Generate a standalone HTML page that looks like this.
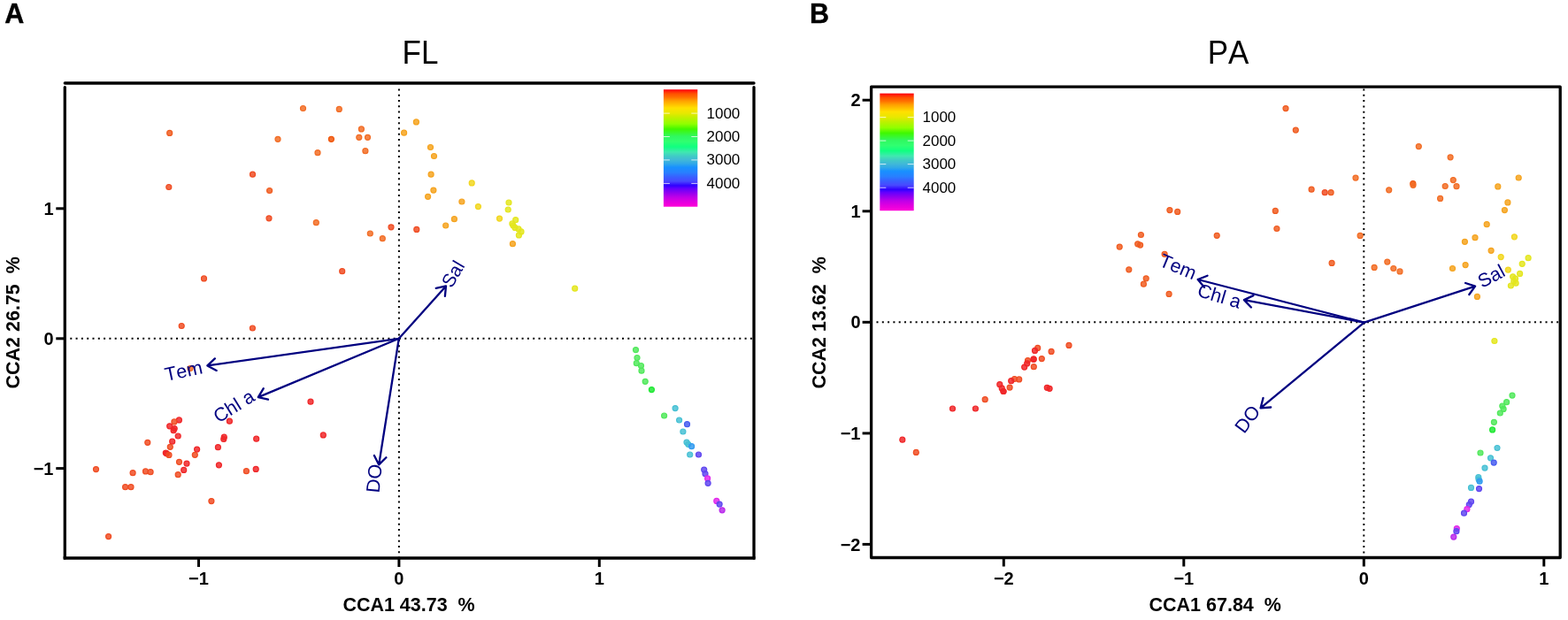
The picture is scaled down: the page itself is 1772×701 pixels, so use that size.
<!DOCTYPE html>
<html><head><meta charset="utf-8"><title>CCA FL PA</title>
<style>
html,body{margin:0;padding:0;background:#fff;}
body{width:1772px;height:701px;overflow:hidden;}
svg{display:block;font-family:"Liberation Sans", Arial, Helvetica, sans-serif;font-kerning:none;}
</style></head>
<body>
<svg width="1772" height="701" viewBox="0 0 1772 701">
<rect width="1772" height="701" fill="#fff"/>
<defs><linearGradient id="gA" x1="0" y1="0" x2="0" y2="1"><stop offset="0.000" stop-color="#ff0010"/><stop offset="0.036" stop-color="#ff5000"/><stop offset="0.066" stop-color="#ff7000"/><stop offset="0.097" stop-color="#ffa000"/><stop offset="0.127" stop-color="#ffc000"/><stop offset="0.157" stop-color="#ffe000"/><stop offset="0.202" stop-color="#e8e800"/><stop offset="0.240" stop-color="#c0f000"/><stop offset="0.293" stop-color="#90ff00"/><stop offset="0.338" stop-color="#40f800"/><stop offset="0.400" stop-color="#30f860"/><stop offset="0.444" stop-color="#30ff70"/><stop offset="0.489" stop-color="#10ff80"/><stop offset="0.534" stop-color="#40e8b0"/><stop offset="0.572" stop-color="#40c8c8"/><stop offset="0.602" stop-color="#40b8d8"/><stop offset="0.633" stop-color="#30a8e8"/><stop offset="0.664" stop-color="#1890ff"/><stop offset="0.708" stop-color="#2880ff"/><stop offset="0.745" stop-color="#3860ff"/><stop offset="0.783" stop-color="#4848ff"/><stop offset="0.820" stop-color="#3000ff"/><stop offset="0.843" stop-color="#6000ff"/><stop offset="0.880" stop-color="#9000f0"/><stop offset="0.918" stop-color="#c000e8"/><stop offset="0.955" stop-color="#e000e0"/><stop offset="1.000" stop-color="#ff00d8"/></linearGradient><linearGradient id="gB" x1="0" y1="0" x2="0" y2="1"><stop offset="0.000" stop-color="#ff0010"/><stop offset="0.036" stop-color="#ff5000"/><stop offset="0.066" stop-color="#ff7000"/><stop offset="0.097" stop-color="#ffa000"/><stop offset="0.127" stop-color="#ffc000"/><stop offset="0.157" stop-color="#ffe000"/><stop offset="0.202" stop-color="#e8e800"/><stop offset="0.240" stop-color="#c0f000"/><stop offset="0.293" stop-color="#90ff00"/><stop offset="0.338" stop-color="#40f800"/><stop offset="0.400" stop-color="#30f860"/><stop offset="0.444" stop-color="#30ff70"/><stop offset="0.489" stop-color="#10ff80"/><stop offset="0.534" stop-color="#40e8b0"/><stop offset="0.572" stop-color="#40c8c8"/><stop offset="0.602" stop-color="#40b8d8"/><stop offset="0.633" stop-color="#30a8e8"/><stop offset="0.664" stop-color="#1890ff"/><stop offset="0.708" stop-color="#2880ff"/><stop offset="0.745" stop-color="#3860ff"/><stop offset="0.783" stop-color="#4848ff"/><stop offset="0.820" stop-color="#3000ff"/><stop offset="0.843" stop-color="#6000ff"/><stop offset="0.880" stop-color="#9000f0"/><stop offset="0.918" stop-color="#c000e8"/><stop offset="0.955" stop-color="#e000e0"/><stop offset="1.000" stop-color="#ff00d8"/></linearGradient></defs>
<text x="5.3" y="26.4" font-size="30.5" font-weight="bold" stroke="#000" stroke-width="0.4">A</text>
<text transform="translate(475 72.4) scale(1 1.035)" font-size="35" text-anchor="middle">FL</text>
<line x1="79.3" y1="382.8" x2="852.0" y2="382.8" stroke="#000" stroke-width="2" stroke-dasharray="2 4.3"/>
<line x1="450.9" y1="100.4" x2="450.9" y2="631.0" stroke="#000" stroke-width="2" stroke-dasharray="2 4.3"/>
<rect x="749.9" y="101.2" width="38.4" height="132.5" fill="url(#gA)"/>
<line x1="749.9" y1="128.1" x2="756.9" y2="128.1" stroke="#fff" stroke-opacity="0.75" stroke-width="1"/>
<line x1="781.3" y1="128.1" x2="788.3" y2="128.1" stroke="#fff" stroke-opacity="0.75" stroke-width="1"/>
<line x1="749.9" y1="154.5" x2="756.9" y2="154.5" stroke="#fff" stroke-opacity="0.75" stroke-width="1"/>
<line x1="781.3" y1="154.5" x2="788.3" y2="154.5" stroke="#fff" stroke-opacity="0.75" stroke-width="1"/>
<line x1="749.9" y1="180.9" x2="756.9" y2="180.9" stroke="#fff" stroke-opacity="0.75" stroke-width="1"/>
<line x1="781.3" y1="180.9" x2="788.3" y2="180.9" stroke="#fff" stroke-opacity="0.75" stroke-width="1"/>
<line x1="749.9" y1="207.4" x2="756.9" y2="207.4" stroke="#fff" stroke-opacity="0.75" stroke-width="1"/>
<line x1="781.3" y1="207.4" x2="788.3" y2="207.4" stroke="#fff" stroke-opacity="0.75" stroke-width="1"/>
<text x="798.5" y="128.1" font-size="17" dominant-baseline="central">1000</text>
<text x="798.5" y="154.5" font-size="17" dominant-baseline="central">2000</text>
<text x="798.5" y="180.9" font-size="17" dominant-baseline="central">3000</text>
<text x="798.5" y="207.4" font-size="17" dominant-baseline="central">4000</text>
<circle cx="191.7" cy="150.4" r="3.00" fill="rgb(240,92,32)" fill-opacity="0.84" stroke="rgb(240,92,32)" stroke-width="1.20"/>
<circle cx="342.5" cy="122.5" r="3.00" fill="rgb(242,108,36)" fill-opacity="0.84" stroke="rgb(242,108,36)" stroke-width="1.20"/>
<circle cx="383.3" cy="123.4" r="3.00" fill="rgb(242,108,36)" fill-opacity="0.84" stroke="rgb(242,108,36)" stroke-width="1.20"/>
<circle cx="408.4" cy="145.9" r="3.00" fill="rgb(242,108,36)" fill-opacity="0.84" stroke="rgb(242,108,36)" stroke-width="1.20"/>
<circle cx="314.0" cy="157.3" r="3.00" fill="rgb(242,108,36)" fill-opacity="0.84" stroke="rgb(242,108,36)" stroke-width="1.20"/>
<circle cx="374.4" cy="157.3" r="3.00" fill="rgb(240,85,10)" fill-opacity="0.84" stroke="rgb(240,85,10)" stroke-width="1.20"/>
<circle cx="405.8" cy="155.3" r="3.00" fill="rgb(242,108,36)" fill-opacity="0.84" stroke="rgb(242,108,36)" stroke-width="1.20"/>
<circle cx="415.5" cy="155.3" r="3.00" fill="rgb(242,108,36)" fill-opacity="0.84" stroke="rgb(242,108,36)" stroke-width="1.20"/>
<circle cx="359.0" cy="172.7" r="3.00" fill="rgb(242,108,36)" fill-opacity="0.84" stroke="rgb(242,108,36)" stroke-width="1.20"/>
<circle cx="412.9" cy="170.7" r="3.00" fill="rgb(242,108,36)" fill-opacity="0.84" stroke="rgb(242,108,36)" stroke-width="1.20"/>
<circle cx="285.5" cy="197.2" r="3.00" fill="rgb(240,76,34)" fill-opacity="0.84" stroke="rgb(240,76,34)" stroke-width="1.20"/>
<circle cx="190.8" cy="211.5" r="3.00" fill="rgb(240,76,34)" fill-opacity="0.84" stroke="rgb(240,76,34)" stroke-width="1.20"/>
<circle cx="304.6" cy="215.5" r="3.00" fill="rgb(240,92,32)" fill-opacity="0.84" stroke="rgb(240,92,32)" stroke-width="1.20"/>
<circle cx="304.0" cy="246.8" r="3.00" fill="rgb(240,76,34)" fill-opacity="0.84" stroke="rgb(240,76,34)" stroke-width="1.20"/>
<circle cx="357.3" cy="251.7" r="3.00" fill="rgb(242,108,36)" fill-opacity="0.84" stroke="rgb(242,108,36)" stroke-width="1.20"/>
<circle cx="442.0" cy="256.8" r="3.00" fill="rgb(240,76,34)" fill-opacity="0.84" stroke="rgb(240,76,34)" stroke-width="1.20"/>
<circle cx="418.3" cy="264.0" r="3.00" fill="rgb(242,108,36)" fill-opacity="0.84" stroke="rgb(242,108,36)" stroke-width="1.20"/>
<circle cx="432.3" cy="269.7" r="3.00" fill="rgb(242,108,36)" fill-opacity="0.84" stroke="rgb(242,108,36)" stroke-width="1.20"/>
<circle cx="230.5" cy="314.9" r="3.00" fill="rgb(240,76,34)" fill-opacity="0.84" stroke="rgb(240,76,34)" stroke-width="1.20"/>
<circle cx="386.7" cy="306.7" r="3.00" fill="rgb(240,76,34)" fill-opacity="0.84" stroke="rgb(240,76,34)" stroke-width="1.20"/>
<circle cx="205.2" cy="368.5" r="3.00" fill="rgb(240,76,34)" fill-opacity="0.84" stroke="rgb(240,76,34)" stroke-width="1.20"/>
<circle cx="285.4" cy="371.0" r="3.00" fill="rgb(240,76,34)" fill-opacity="0.84" stroke="rgb(240,76,34)" stroke-width="1.20"/>
<circle cx="456.6" cy="150.2" r="3.00" fill="rgb(245,163,30)" fill-opacity="0.84" stroke="rgb(245,163,30)" stroke-width="1.20"/>
<circle cx="470.4" cy="137.9" r="3.00" fill="rgb(245,163,30)" fill-opacity="0.84" stroke="rgb(245,163,30)" stroke-width="1.20"/>
<circle cx="486.5" cy="166.5" r="3.00" fill="rgb(245,163,30)" fill-opacity="0.84" stroke="rgb(245,163,30)" stroke-width="1.20"/>
<circle cx="490.5" cy="176.5" r="3.00" fill="rgb(245,163,30)" fill-opacity="0.84" stroke="rgb(245,163,30)" stroke-width="1.20"/>
<circle cx="487.1" cy="197.2" r="3.00" fill="rgb(245,163,30)" fill-opacity="0.84" stroke="rgb(245,163,30)" stroke-width="1.20"/>
<circle cx="489.9" cy="215.1" r="3.00" fill="rgb(245,163,30)" fill-opacity="0.84" stroke="rgb(245,163,30)" stroke-width="1.20"/>
<circle cx="483.6" cy="222.3" r="3.00" fill="rgb(245,163,30)" fill-opacity="0.84" stroke="rgb(245,163,30)" stroke-width="1.20"/>
<circle cx="533.2" cy="206.9" r="3.00" fill="rgb(242,214,30)" fill-opacity="0.84" stroke="rgb(242,214,30)" stroke-width="1.20"/>
<circle cx="521.9" cy="228.0" r="3.00" fill="rgb(245,163,30)" fill-opacity="0.84" stroke="rgb(245,163,30)" stroke-width="1.20"/>
<circle cx="540.4" cy="233.6" r="3.00" fill="rgb(242,214,30)" fill-opacity="0.84" stroke="rgb(242,214,30)" stroke-width="1.20"/>
<circle cx="513.4" cy="247.7" r="3.00" fill="rgb(245,163,30)" fill-opacity="0.84" stroke="rgb(245,163,30)" stroke-width="1.20"/>
<circle cx="503.7" cy="255.0" r="3.00" fill="rgb(245,163,30)" fill-opacity="0.84" stroke="rgb(245,163,30)" stroke-width="1.20"/>
<circle cx="470.8" cy="259.4" r="3.00" fill="rgb(240,76,34)" fill-opacity="0.84" stroke="rgb(240,76,34)" stroke-width="1.20"/>
<circle cx="575.0" cy="229.0" r="3.00" fill="rgb(228,230,30)" fill-opacity="0.84" stroke="rgb(228,230,30)" stroke-width="1.20"/>
<circle cx="574.2" cy="237.0" r="3.00" fill="rgb(228,230,30)" fill-opacity="0.84" stroke="rgb(228,230,30)" stroke-width="1.20"/>
<circle cx="564.5" cy="247.1" r="3.00" fill="rgb(242,214,30)" fill-opacity="0.84" stroke="rgb(242,214,30)" stroke-width="1.20"/>
<circle cx="582.7" cy="248.7" r="3.00" fill="rgb(228,230,30)" fill-opacity="0.84" stroke="rgb(228,230,30)" stroke-width="1.20"/>
<circle cx="578.9" cy="252.9" r="3.00" fill="rgb(228,230,30)" fill-opacity="0.84" stroke="rgb(228,230,30)" stroke-width="1.20"/>
<circle cx="580.0" cy="255.0" r="3.00" fill="rgb(228,230,30)" fill-opacity="0.84" stroke="rgb(228,230,30)" stroke-width="1.20"/>
<circle cx="582.0" cy="257.4" r="3.00" fill="rgb(228,230,30)" fill-opacity="0.84" stroke="rgb(228,230,30)" stroke-width="1.20"/>
<circle cx="586.0" cy="258.9" r="3.00" fill="rgb(228,230,30)" fill-opacity="0.84" stroke="rgb(228,230,30)" stroke-width="1.20"/>
<circle cx="589.0" cy="261.9" r="3.00" fill="rgb(228,230,30)" fill-opacity="0.84" stroke="rgb(228,230,30)" stroke-width="1.20"/>
<circle cx="586.4" cy="265.9" r="3.00" fill="rgb(228,230,30)" fill-opacity="0.84" stroke="rgb(228,230,30)" stroke-width="1.20"/>
<circle cx="579.4" cy="275.7" r="3.00" fill="rgb(245,163,30)" fill-opacity="0.84" stroke="rgb(245,163,30)" stroke-width="1.20"/>
<circle cx="649.7" cy="326.2" r="3.00" fill="rgb(228,230,30)" fill-opacity="0.84" stroke="rgb(228,230,30)" stroke-width="1.20"/>
<circle cx="215.0" cy="416.5" r="3.00" fill="rgb(242,108,36)" fill-opacity="0.84" stroke="rgb(242,108,36)" stroke-width="1.20"/>
<circle cx="202.4" cy="474.9" r="3.00" fill="rgb(240,38,40)" fill-opacity="0.84" stroke="rgb(240,38,40)" stroke-width="1.20"/>
<circle cx="196.9" cy="476.9" r="3.00" fill="rgb(240,76,34)" fill-opacity="0.84" stroke="rgb(240,76,34)" stroke-width="1.20"/>
<circle cx="191.7" cy="481.8" r="3.00" fill="rgb(240,38,40)" fill-opacity="0.84" stroke="rgb(240,38,40)" stroke-width="1.20"/>
<circle cx="197.2" cy="484.6" r="3.00" fill="rgb(240,38,40)" fill-opacity="0.84" stroke="rgb(240,38,40)" stroke-width="1.20"/>
<circle cx="196.1" cy="486.7" r="3.00" fill="rgb(240,38,40)" fill-opacity="0.84" stroke="rgb(240,38,40)" stroke-width="1.20"/>
<circle cx="201.2" cy="493.0" r="3.00" fill="rgb(240,38,40)" fill-opacity="0.84" stroke="rgb(240,38,40)" stroke-width="1.20"/>
<circle cx="194.7" cy="499.2" r="3.00" fill="rgb(240,38,40)" fill-opacity="0.84" stroke="rgb(240,38,40)" stroke-width="1.20"/>
<circle cx="192.3" cy="505.3" r="3.00" fill="rgb(240,76,34)" fill-opacity="0.84" stroke="rgb(240,76,34)" stroke-width="1.20"/>
<circle cx="187.3" cy="512.1" r="3.00" fill="rgb(240,38,40)" fill-opacity="0.84" stroke="rgb(240,38,40)" stroke-width="1.20"/>
<circle cx="188.5" cy="512.8" r="3.00" fill="rgb(240,38,40)" fill-opacity="0.84" stroke="rgb(240,38,40)" stroke-width="1.20"/>
<circle cx="191.0" cy="514.4" r="3.00" fill="rgb(240,76,34)" fill-opacity="0.84" stroke="rgb(240,76,34)" stroke-width="1.20"/>
<circle cx="222.6" cy="508.1" r="3.00" fill="rgb(240,38,40)" fill-opacity="0.84" stroke="rgb(240,38,40)" stroke-width="1.20"/>
<circle cx="220.3" cy="514.3" r="3.00" fill="rgb(240,76,34)" fill-opacity="0.84" stroke="rgb(240,76,34)" stroke-width="1.20"/>
<circle cx="202.5" cy="522.3" r="3.00" fill="rgb(240,76,34)" fill-opacity="0.84" stroke="rgb(240,76,34)" stroke-width="1.20"/>
<circle cx="211.0" cy="524.1" r="3.00" fill="rgb(240,38,40)" fill-opacity="0.84" stroke="rgb(240,38,40)" stroke-width="1.20"/>
<circle cx="207.7" cy="531.4" r="3.00" fill="rgb(240,38,40)" fill-opacity="0.84" stroke="rgb(240,38,40)" stroke-width="1.20"/>
<circle cx="201.2" cy="536.7" r="3.00" fill="rgb(240,76,34)" fill-opacity="0.84" stroke="rgb(240,76,34)" stroke-width="1.20"/>
<circle cx="166.8" cy="500.3" r="3.00" fill="rgb(240,76,34)" fill-opacity="0.84" stroke="rgb(240,76,34)" stroke-width="1.20"/>
<circle cx="259.4" cy="476.2" r="3.00" fill="rgb(240,38,40)" fill-opacity="0.84" stroke="rgb(240,38,40)" stroke-width="1.20"/>
<circle cx="253.3" cy="494.2" r="3.00" fill="rgb(240,38,40)" fill-opacity="0.84" stroke="rgb(240,38,40)" stroke-width="1.20"/>
<circle cx="252.8" cy="496.5" r="3.00" fill="rgb(240,38,40)" fill-opacity="0.84" stroke="rgb(240,38,40)" stroke-width="1.20"/>
<circle cx="246.4" cy="505.7" r="3.00" fill="rgb(240,38,40)" fill-opacity="0.84" stroke="rgb(240,38,40)" stroke-width="1.20"/>
<circle cx="247.4" cy="525.8" r="3.00" fill="rgb(240,38,40)" fill-opacity="0.84" stroke="rgb(240,38,40)" stroke-width="1.20"/>
<circle cx="289.7" cy="496.2" r="3.00" fill="rgb(240,38,40)" fill-opacity="0.84" stroke="rgb(240,38,40)" stroke-width="1.20"/>
<circle cx="289.2" cy="530.4" r="3.00" fill="rgb(240,38,40)" fill-opacity="0.84" stroke="rgb(240,38,40)" stroke-width="1.20"/>
<circle cx="278.4" cy="532.7" r="3.00" fill="rgb(240,76,34)" fill-opacity="0.84" stroke="rgb(240,76,34)" stroke-width="1.20"/>
<circle cx="108.5" cy="530.6" r="3.00" fill="rgb(240,76,34)" fill-opacity="0.84" stroke="rgb(240,76,34)" stroke-width="1.20"/>
<circle cx="150.1" cy="534.7" r="3.00" fill="rgb(240,76,34)" fill-opacity="0.84" stroke="rgb(240,76,34)" stroke-width="1.20"/>
<circle cx="164.5" cy="532.9" r="3.00" fill="rgb(240,76,34)" fill-opacity="0.84" stroke="rgb(240,76,34)" stroke-width="1.20"/>
<circle cx="170.1" cy="533.7" r="3.00" fill="rgb(240,76,34)" fill-opacity="0.84" stroke="rgb(240,76,34)" stroke-width="1.20"/>
<circle cx="141.6" cy="550.7" r="3.00" fill="rgb(240,76,34)" fill-opacity="0.84" stroke="rgb(240,76,34)" stroke-width="1.20"/>
<circle cx="148.0" cy="550.7" r="3.00" fill="rgb(240,76,34)" fill-opacity="0.84" stroke="rgb(240,76,34)" stroke-width="1.20"/>
<circle cx="238.9" cy="566.6" r="3.00" fill="rgb(240,76,34)" fill-opacity="0.84" stroke="rgb(240,76,34)" stroke-width="1.20"/>
<circle cx="122.6" cy="606.6" r="3.00" fill="rgb(240,76,34)" fill-opacity="0.84" stroke="rgb(240,76,34)" stroke-width="1.20"/>
<circle cx="351.0" cy="454.2" r="3.00" fill="rgb(240,38,40)" fill-opacity="0.84" stroke="rgb(240,38,40)" stroke-width="1.20"/>
<circle cx="365.3" cy="491.9" r="3.00" fill="rgb(240,38,40)" fill-opacity="0.84" stroke="rgb(240,38,40)" stroke-width="1.20"/>
<circle cx="718.5" cy="395.6" r="3.00" fill="rgb(80,232,90)" fill-opacity="0.84" stroke="rgb(80,232,90)" stroke-width="1.20"/>
<circle cx="720.0" cy="404.5" r="3.00" fill="rgb(80,232,90)" fill-opacity="0.84" stroke="rgb(80,232,90)" stroke-width="1.20"/>
<circle cx="719.3" cy="410.7" r="3.00" fill="rgb(80,232,90)" fill-opacity="0.84" stroke="rgb(80,232,90)" stroke-width="1.20"/>
<circle cx="724.5" cy="413.5" r="3.00" fill="rgb(80,232,90)" fill-opacity="0.84" stroke="rgb(80,232,90)" stroke-width="1.20"/>
<circle cx="725.0" cy="419.2" r="3.00" fill="rgb(80,232,90)" fill-opacity="0.84" stroke="rgb(80,232,90)" stroke-width="1.20"/>
<circle cx="729.2" cy="431.3" r="3.00" fill="rgb(80,232,90)" fill-opacity="0.84" stroke="rgb(80,232,90)" stroke-width="1.20"/>
<circle cx="736.4" cy="440.6" r="3.00" fill="rgb(30,232,50)" fill-opacity="0.84" stroke="rgb(30,232,50)" stroke-width="1.20"/>
<circle cx="763.1" cy="461.6" r="3.00" fill="rgb(70,192,212)" fill-opacity="0.84" stroke="rgb(70,192,212)" stroke-width="1.20"/>
<circle cx="750.6" cy="470.0" r="3.00" fill="rgb(80,232,90)" fill-opacity="0.84" stroke="rgb(80,232,90)" stroke-width="1.20"/>
<circle cx="767.6" cy="475.0" r="3.00" fill="rgb(70,192,212)" fill-opacity="0.84" stroke="rgb(70,192,212)" stroke-width="1.20"/>
<circle cx="776.5" cy="479.7" r="3.00" fill="rgb(70,92,240)" fill-opacity="0.84" stroke="rgb(70,92,240)" stroke-width="1.20"/>
<circle cx="771.9" cy="488.0" r="3.00" fill="rgb(70,192,212)" fill-opacity="0.84" stroke="rgb(70,192,212)" stroke-width="1.20"/>
<circle cx="776.0" cy="500.1" r="3.00" fill="rgb(70,192,212)" fill-opacity="0.84" stroke="rgb(70,192,212)" stroke-width="1.20"/>
<circle cx="777.8" cy="502.3" r="3.00" fill="rgb(70,192,212)" fill-opacity="0.84" stroke="rgb(70,192,212)" stroke-width="1.20"/>
<circle cx="781.6" cy="504.7" r="3.00" fill="rgb(50,155,240)" fill-opacity="0.84" stroke="rgb(50,155,240)" stroke-width="1.20"/>
<circle cx="779.7" cy="514.0" r="3.00" fill="rgb(70,192,212)" fill-opacity="0.84" stroke="rgb(70,192,212)" stroke-width="1.20"/>
<circle cx="789.5" cy="514.0" r="3.00" fill="rgb(95,70,240)" fill-opacity="0.84" stroke="rgb(95,70,240)" stroke-width="1.20"/>
<circle cx="795.7" cy="531.1" r="3.00" fill="rgb(95,70,240)" fill-opacity="0.84" stroke="rgb(95,70,240)" stroke-width="1.20"/>
<circle cx="797.0" cy="535.7" r="3.00" fill="rgb(95,70,240)" fill-opacity="0.84" stroke="rgb(95,70,240)" stroke-width="1.20"/>
<circle cx="799.6" cy="540.9" r="3.00" fill="rgb(225,40,235)" fill-opacity="0.84" stroke="rgb(225,40,235)" stroke-width="1.20"/>
<circle cx="800.1" cy="546.3" r="3.00" fill="rgb(95,70,240)" fill-opacity="0.84" stroke="rgb(95,70,240)" stroke-width="1.20"/>
<circle cx="809.8" cy="566.4" r="3.00" fill="rgb(225,40,235)" fill-opacity="0.84" stroke="rgb(225,40,235)" stroke-width="1.20"/>
<circle cx="813.1" cy="570.1" r="3.00" fill="rgb(95,70,240)" fill-opacity="0.84" stroke="rgb(95,70,240)" stroke-width="1.20"/>
<circle cx="816.1" cy="576.8" r="3.00" fill="rgb(185,40,235)" fill-opacity="0.84" stroke="rgb(185,40,235)" stroke-width="1.20"/>
<path d="M450.8 382.8 L504.0 323.4 M492.7 325.8 L504.0 323.4 L502.9 334.9" fill="none" stroke="#000080" stroke-width="2.30" stroke-linejoin="round" stroke-linecap="round"/>
<path d="M450.8 382.8 L234.4 413.4 M244.7 418.9 L234.4 413.4 L242.8 405.4" fill="none" stroke="#000080" stroke-width="2.30" stroke-linejoin="round" stroke-linecap="round"/>
<path d="M450.8 382.8 L291.8 449.1 M303.0 451.7 L291.8 449.1 L297.8 439.2" fill="none" stroke="#000080" stroke-width="2.30" stroke-linejoin="round" stroke-linecap="round"/>
<path d="M450.8 382.8 L428.2 525.4 M436.4 517.2 L428.2 525.4 L422.9 515.0" fill="none" stroke="#000080" stroke-width="2.30" stroke-linejoin="round" stroke-linecap="round"/>
<text x="0" y="0" transform="translate(510.5 326.5) rotate(-59.5)" text-anchor="start" font-size="21" fill="#000080">Sal</text>
<text x="0" y="0" transform="translate(230.0 421.9) rotate(-12.2)" text-anchor="end" font-size="21.5" fill="#000080">Tem</text>
<text x="0" y="0" transform="translate(289.5 452.2) rotate(-32.0)" text-anchor="end" font-size="21.5" fill="#000080">Chl a</text>
<text x="0" y="0" transform="translate(431.8 525.6) rotate(-84.0)" text-anchor="end" font-size="21.5" fill="#000080">DO</text>
<path d="M73.3 94.0 H852.0 M73.3 98.6 V631.0 M852.0 98.6 V631.0" stroke="#000" stroke-width="3.3" fill="none" stroke-linecap="round"/><path d="M71.6 631.0 H853.6" stroke="#000" stroke-width="3.3" fill="none" stroke-linecap="butt"/>
<line x1="224.5" y1="631.0" x2="224.5" y2="641.0" stroke="#000" stroke-width="3"/>
<text x="224.5" y="660.5" font-size="20" font-weight="bold" text-anchor="middle">−1</text>
<line x1="450.9" y1="631.0" x2="450.9" y2="641.0" stroke="#000" stroke-width="3"/>
<text x="450.9" y="660.5" font-size="20" font-weight="bold" text-anchor="middle">0</text>
<line x1="677.3" y1="631.0" x2="677.3" y2="641.0" stroke="#000" stroke-width="3"/>
<text x="677.3" y="660.5" font-size="20" font-weight="bold" text-anchor="middle">1</text>
<line x1="63.3" y1="235.8" x2="73.3" y2="235.8" stroke="#000" stroke-width="3"/>
<text x="60.5" y="242.9" font-size="20" font-weight="bold" text-anchor="end">1</text>
<line x1="63.3" y1="382.8" x2="73.3" y2="382.8" stroke="#000" stroke-width="3"/>
<text x="60.5" y="389.9" font-size="20" font-weight="bold" text-anchor="end">0</text>
<line x1="63.3" y1="529.6" x2="73.3" y2="529.6" stroke="#000" stroke-width="3"/>
<text x="60.5" y="536.7" font-size="20" font-weight="bold" text-anchor="end">−1</text>
<text transform="translate(462 691.3) scale(1 1.065)" font-size="21.5" font-weight="bold" text-anchor="middle" xml:space="preserve" style="white-space:pre">CCA1 43.73  %</text>
<text transform="translate(21.8 364.8) rotate(-90) scale(1 1.065)" font-size="21.5" font-weight="bold" text-anchor="middle" xml:space="preserve" style="white-space:pre">CCA2 26.75  %</text>
<text x="915" y="26.4" font-size="30.5" font-weight="bold" stroke="#000" stroke-width="0.4">B</text>
<text transform="translate(1388 72.4) scale(1 1.035)" font-size="35" text-anchor="middle">PA</text>
<line x1="990.5" y1="364.3" x2="1763.0" y2="364.3" stroke="#000" stroke-width="2" stroke-dasharray="2 4.3"/>
<line x1="1541.3" y1="100.5" x2="1541.3" y2="630.0" stroke="#000" stroke-width="2" stroke-dasharray="2 4.3"/>
<rect x="994.3" y="105.6" width="38.4" height="132.6" fill="url(#gB)"/>
<line x1="994.3" y1="132.6" x2="1001.3" y2="132.6" stroke="#fff" stroke-opacity="0.75" stroke-width="1"/>
<line x1="1025.7" y1="132.6" x2="1032.7" y2="132.6" stroke="#fff" stroke-opacity="0.75" stroke-width="1"/>
<line x1="994.3" y1="159.1" x2="1001.3" y2="159.1" stroke="#fff" stroke-opacity="0.75" stroke-width="1"/>
<line x1="1025.7" y1="159.1" x2="1032.7" y2="159.1" stroke="#fff" stroke-opacity="0.75" stroke-width="1"/>
<line x1="994.3" y1="185.6" x2="1001.3" y2="185.6" stroke="#fff" stroke-opacity="0.75" stroke-width="1"/>
<line x1="1025.7" y1="185.6" x2="1032.7" y2="185.6" stroke="#fff" stroke-opacity="0.75" stroke-width="1"/>
<line x1="994.3" y1="212.2" x2="1001.3" y2="212.2" stroke="#fff" stroke-opacity="0.75" stroke-width="1"/>
<line x1="1025.7" y1="212.2" x2="1032.7" y2="212.2" stroke="#fff" stroke-opacity="0.75" stroke-width="1"/>
<text x="1042.5" y="132.6" font-size="17" dominant-baseline="central">1000</text>
<text x="1042.5" y="159.1" font-size="17" dominant-baseline="central">2000</text>
<text x="1042.5" y="185.6" font-size="17" dominant-baseline="central">3000</text>
<text x="1042.5" y="212.2" font-size="17" dominant-baseline="central">4000</text>
<circle cx="1453.0" cy="122.6" r="3.00" fill="rgb(240,92,32)" fill-opacity="0.84" stroke="rgb(240,92,32)" stroke-width="1.20"/>
<circle cx="1464.3" cy="147.1" r="3.00" fill="rgb(240,92,32)" fill-opacity="0.84" stroke="rgb(240,92,32)" stroke-width="1.20"/>
<circle cx="1532.0" cy="201.1" r="3.00" fill="rgb(242,108,36)" fill-opacity="0.84" stroke="rgb(242,108,36)" stroke-width="1.20"/>
<circle cx="1482.1" cy="214.2" r="3.00" fill="rgb(240,92,32)" fill-opacity="0.84" stroke="rgb(240,92,32)" stroke-width="1.20"/>
<circle cx="1497.2" cy="217.7" r="3.00" fill="rgb(240,76,34)" fill-opacity="0.84" stroke="rgb(240,76,34)" stroke-width="1.20"/>
<circle cx="1504.1" cy="217.7" r="3.00" fill="rgb(240,92,32)" fill-opacity="0.84" stroke="rgb(240,92,32)" stroke-width="1.20"/>
<circle cx="1441.3" cy="238.4" r="3.00" fill="rgb(240,92,32)" fill-opacity="0.84" stroke="rgb(240,92,32)" stroke-width="1.20"/>
<circle cx="1442.9" cy="258.5" r="3.00" fill="rgb(240,92,32)" fill-opacity="0.84" stroke="rgb(240,92,32)" stroke-width="1.20"/>
<circle cx="1537.1" cy="266.4" r="3.00" fill="rgb(242,108,36)" fill-opacity="0.84" stroke="rgb(242,108,36)" stroke-width="1.20"/>
<circle cx="1505.1" cy="297.4" r="3.00" fill="rgb(240,92,32)" fill-opacity="0.84" stroke="rgb(240,92,32)" stroke-width="1.20"/>
<circle cx="1321.9" cy="237.6" r="3.00" fill="rgb(240,92,32)" fill-opacity="0.84" stroke="rgb(240,92,32)" stroke-width="1.20"/>
<circle cx="1330.7" cy="239.4" r="3.00" fill="rgb(240,92,32)" fill-opacity="0.84" stroke="rgb(240,92,32)" stroke-width="1.20"/>
<circle cx="1289.4" cy="265.5" r="3.00" fill="rgb(240,92,32)" fill-opacity="0.84" stroke="rgb(240,92,32)" stroke-width="1.20"/>
<circle cx="1285.7" cy="275.8" r="3.00" fill="rgb(240,92,32)" fill-opacity="0.84" stroke="rgb(240,92,32)" stroke-width="1.20"/>
<circle cx="1288.6" cy="277.1" r="3.00" fill="rgb(240,92,32)" fill-opacity="0.84" stroke="rgb(240,92,32)" stroke-width="1.20"/>
<circle cx="1265.2" cy="279.1" r="3.00" fill="rgb(240,92,32)" fill-opacity="0.84" stroke="rgb(240,92,32)" stroke-width="1.20"/>
<circle cx="1316.1" cy="287.3" r="3.00" fill="rgb(240,92,32)" fill-opacity="0.84" stroke="rgb(240,92,32)" stroke-width="1.20"/>
<circle cx="1275.8" cy="304.8" r="3.00" fill="rgb(240,92,32)" fill-opacity="0.84" stroke="rgb(240,92,32)" stroke-width="1.20"/>
<circle cx="1295.2" cy="314.8" r="3.00" fill="rgb(240,92,32)" fill-opacity="0.84" stroke="rgb(240,92,32)" stroke-width="1.20"/>
<circle cx="1292.4" cy="321.2" r="3.00" fill="rgb(240,92,32)" fill-opacity="0.84" stroke="rgb(240,92,32)" stroke-width="1.20"/>
<circle cx="1321.1" cy="332.4" r="3.00" fill="rgb(240,92,32)" fill-opacity="0.84" stroke="rgb(240,92,32)" stroke-width="1.20"/>
<circle cx="1375.2" cy="266.3" r="3.00" fill="rgb(240,92,32)" fill-opacity="0.84" stroke="rgb(240,92,32)" stroke-width="1.20"/>
<circle cx="1603.3" cy="165.6" r="3.00" fill="rgb(242,108,36)" fill-opacity="0.84" stroke="rgb(242,108,36)" stroke-width="1.20"/>
<circle cx="1639.1" cy="177.8" r="3.00" fill="rgb(242,108,36)" fill-opacity="0.84" stroke="rgb(242,108,36)" stroke-width="1.20"/>
<circle cx="1642.3" cy="203.6" r="3.00" fill="rgb(242,108,36)" fill-opacity="0.84" stroke="rgb(242,108,36)" stroke-width="1.20"/>
<circle cx="1596.8" cy="207.5" r="3.00" fill="rgb(240,85,10)" fill-opacity="0.84" stroke="rgb(240,85,10)" stroke-width="1.20"/>
<circle cx="1597.0" cy="209.3" r="3.00" fill="rgb(242,108,36)" fill-opacity="0.84" stroke="rgb(242,108,36)" stroke-width="1.20"/>
<circle cx="1569.7" cy="214.8" r="3.00" fill="rgb(242,108,36)" fill-opacity="0.84" stroke="rgb(242,108,36)" stroke-width="1.20"/>
<circle cx="1633.2" cy="210.5" r="3.00" fill="rgb(242,108,36)" fill-opacity="0.84" stroke="rgb(242,108,36)" stroke-width="1.20"/>
<circle cx="1646.0" cy="210.7" r="3.00" fill="rgb(242,108,36)" fill-opacity="0.84" stroke="rgb(242,108,36)" stroke-width="1.20"/>
<circle cx="1627.6" cy="224.4" r="3.00" fill="rgb(242,108,36)" fill-opacity="0.84" stroke="rgb(242,108,36)" stroke-width="1.20"/>
<circle cx="1716.2" cy="201.0" r="3.00" fill="rgb(245,163,30)" fill-opacity="0.84" stroke="rgb(245,163,30)" stroke-width="1.20"/>
<circle cx="1692.8" cy="210.9" r="3.00" fill="rgb(245,163,30)" fill-opacity="0.84" stroke="rgb(245,163,30)" stroke-width="1.20"/>
<circle cx="1703.9" cy="228.9" r="3.00" fill="rgb(245,163,30)" fill-opacity="0.84" stroke="rgb(245,163,30)" stroke-width="1.20"/>
<circle cx="1700.4" cy="237.6" r="3.00" fill="rgb(245,163,30)" fill-opacity="0.84" stroke="rgb(245,163,30)" stroke-width="1.20"/>
<circle cx="1680.2" cy="253.7" r="3.00" fill="rgb(245,163,30)" fill-opacity="0.84" stroke="rgb(245,163,30)" stroke-width="1.20"/>
<circle cx="1711.4" cy="267.8" r="3.00" fill="rgb(242,214,30)" fill-opacity="0.84" stroke="rgb(242,214,30)" stroke-width="1.20"/>
<circle cx="1667.0" cy="268.7" r="3.00" fill="rgb(245,163,30)" fill-opacity="0.84" stroke="rgb(245,163,30)" stroke-width="1.20"/>
<circle cx="1655.4" cy="273.3" r="3.00" fill="rgb(245,163,30)" fill-opacity="0.84" stroke="rgb(245,163,30)" stroke-width="1.20"/>
<circle cx="1685.1" cy="283.3" r="3.00" fill="rgb(245,163,30)" fill-opacity="0.84" stroke="rgb(245,163,30)" stroke-width="1.20"/>
<circle cx="1696.2" cy="290.6" r="3.00" fill="rgb(242,214,30)" fill-opacity="0.84" stroke="rgb(242,214,30)" stroke-width="1.20"/>
<circle cx="1727.1" cy="291.7" r="3.00" fill="rgb(228,230,30)" fill-opacity="0.84" stroke="rgb(228,230,30)" stroke-width="1.20"/>
<circle cx="1720.2" cy="298.3" r="3.00" fill="rgb(228,230,30)" fill-opacity="0.84" stroke="rgb(228,230,30)" stroke-width="1.20"/>
<circle cx="1704.3" cy="305.1" r="3.00" fill="rgb(242,214,30)" fill-opacity="0.84" stroke="rgb(242,214,30)" stroke-width="1.20"/>
<circle cx="1717.6" cy="309.4" r="3.00" fill="rgb(228,230,30)" fill-opacity="0.84" stroke="rgb(228,230,30)" stroke-width="1.20"/>
<circle cx="1709.7" cy="312.8" r="3.00" fill="rgb(228,230,30)" fill-opacity="0.84" stroke="rgb(228,230,30)" stroke-width="1.20"/>
<circle cx="1712.5" cy="315.1" r="3.00" fill="rgb(228,230,30)" fill-opacity="0.84" stroke="rgb(228,230,30)" stroke-width="1.20"/>
<circle cx="1710.8" cy="317.9" r="3.00" fill="rgb(228,230,30)" fill-opacity="0.84" stroke="rgb(228,230,30)" stroke-width="1.20"/>
<circle cx="1713.1" cy="320.2" r="3.00" fill="rgb(228,230,30)" fill-opacity="0.84" stroke="rgb(228,230,30)" stroke-width="1.20"/>
<circle cx="1707.4" cy="323.0" r="3.00" fill="rgb(228,230,30)" fill-opacity="0.84" stroke="rgb(228,230,30)" stroke-width="1.20"/>
<circle cx="1553.1" cy="302.4" r="3.00" fill="rgb(242,108,36)" fill-opacity="0.84" stroke="rgb(242,108,36)" stroke-width="1.20"/>
<circle cx="1567.8" cy="296.1" r="3.00" fill="rgb(242,108,36)" fill-opacity="0.84" stroke="rgb(242,108,36)" stroke-width="1.20"/>
<circle cx="1574.8" cy="303.5" r="3.00" fill="rgb(242,108,36)" fill-opacity="0.84" stroke="rgb(242,108,36)" stroke-width="1.20"/>
<circle cx="1582.0" cy="306.9" r="3.00" fill="rgb(242,108,36)" fill-opacity="0.84" stroke="rgb(242,108,36)" stroke-width="1.20"/>
<circle cx="1641.5" cy="303.5" r="3.00" fill="rgb(245,163,30)" fill-opacity="0.84" stroke="rgb(245,163,30)" stroke-width="1.20"/>
<circle cx="1656.1" cy="299.6" r="3.00" fill="rgb(245,163,30)" fill-opacity="0.84" stroke="rgb(245,163,30)" stroke-width="1.20"/>
<circle cx="1669.4" cy="335.4" r="3.00" fill="rgb(245,163,30)" fill-opacity="0.84" stroke="rgb(245,163,30)" stroke-width="1.20"/>
<circle cx="1688.9" cy="385.5" r="3.00" fill="rgb(228,230,30)" fill-opacity="0.84" stroke="rgb(228,230,30)" stroke-width="1.20"/>
<circle cx="1709.0" cy="447.1" r="3.00" fill="rgb(80,232,90)" fill-opacity="0.84" stroke="rgb(80,232,90)" stroke-width="1.20"/>
<circle cx="1702.6" cy="454.7" r="3.00" fill="rgb(80,232,90)" fill-opacity="0.84" stroke="rgb(80,232,90)" stroke-width="1.20"/>
<circle cx="1697.8" cy="459.0" r="3.00" fill="rgb(80,232,90)" fill-opacity="0.84" stroke="rgb(80,232,90)" stroke-width="1.20"/>
<circle cx="1699.1" cy="462.4" r="3.00" fill="rgb(80,232,90)" fill-opacity="0.84" stroke="rgb(80,232,90)" stroke-width="1.20"/>
<circle cx="1695.3" cy="467.0" r="3.00" fill="rgb(80,232,90)" fill-opacity="0.84" stroke="rgb(80,232,90)" stroke-width="1.20"/>
<circle cx="1688.4" cy="477.3" r="3.00" fill="rgb(80,232,90)" fill-opacity="0.84" stroke="rgb(80,232,90)" stroke-width="1.20"/>
<circle cx="1686.6" cy="485.9" r="3.00" fill="rgb(30,232,50)" fill-opacity="0.84" stroke="rgb(30,232,50)" stroke-width="1.20"/>
<circle cx="1692.0" cy="506.5" r="3.00" fill="rgb(70,192,212)" fill-opacity="0.84" stroke="rgb(70,192,212)" stroke-width="1.20"/>
<circle cx="1673.0" cy="512.0" r="3.00" fill="rgb(80,232,90)" fill-opacity="0.84" stroke="rgb(80,232,90)" stroke-width="1.20"/>
<circle cx="1684.5" cy="517.8" r="3.00" fill="rgb(70,192,212)" fill-opacity="0.84" stroke="rgb(70,192,212)" stroke-width="1.20"/>
<circle cx="1688.2" cy="523.1" r="3.00" fill="rgb(70,92,240)" fill-opacity="0.84" stroke="rgb(70,92,240)" stroke-width="1.20"/>
<circle cx="1678.0" cy="529.1" r="3.00" fill="rgb(70,192,212)" fill-opacity="0.84" stroke="rgb(70,192,212)" stroke-width="1.20"/>
<circle cx="1670.8" cy="539.7" r="3.00" fill="rgb(70,192,212)" fill-opacity="0.84" stroke="rgb(70,192,212)" stroke-width="1.20"/>
<circle cx="1671.1" cy="542.0" r="3.00" fill="rgb(70,192,212)" fill-opacity="0.84" stroke="rgb(70,192,212)" stroke-width="1.20"/>
<circle cx="1672.1" cy="544.2" r="3.00" fill="rgb(50,155,240)" fill-opacity="0.84" stroke="rgb(50,155,240)" stroke-width="1.20"/>
<circle cx="1662.5" cy="551.4" r="3.00" fill="rgb(70,192,212)" fill-opacity="0.84" stroke="rgb(70,192,212)" stroke-width="1.20"/>
<circle cx="1671.5" cy="552.6" r="3.00" fill="rgb(95,70,240)" fill-opacity="0.84" stroke="rgb(95,70,240)" stroke-width="1.20"/>
<circle cx="1662.5" cy="567.2" r="3.00" fill="rgb(95,70,240)" fill-opacity="0.84" stroke="rgb(95,70,240)" stroke-width="1.20"/>
<circle cx="1660.3" cy="570.6" r="3.00" fill="rgb(95,70,240)" fill-opacity="0.84" stroke="rgb(95,70,240)" stroke-width="1.20"/>
<circle cx="1657.9" cy="575.7" r="3.00" fill="rgb(225,40,235)" fill-opacity="0.84" stroke="rgb(225,40,235)" stroke-width="1.20"/>
<circle cx="1654.5" cy="580.2" r="3.00" fill="rgb(95,70,240)" fill-opacity="0.84" stroke="rgb(95,70,240)" stroke-width="1.20"/>
<circle cx="1646.3" cy="597.6" r="3.00" fill="rgb(225,40,235)" fill-opacity="0.84" stroke="rgb(225,40,235)" stroke-width="1.20"/>
<circle cx="1645.9" cy="600.7" r="3.00" fill="rgb(95,70,240)" fill-opacity="0.84" stroke="rgb(95,70,240)" stroke-width="1.20"/>
<circle cx="1642.8" cy="607.1" r="3.00" fill="rgb(185,40,235)" fill-opacity="0.84" stroke="rgb(185,40,235)" stroke-width="1.20"/>
<circle cx="1208.0" cy="390.4" r="3.00" fill="rgb(240,76,34)" fill-opacity="0.84" stroke="rgb(240,76,34)" stroke-width="1.20"/>
<circle cx="1172.7" cy="393.4" r="3.00" fill="rgb(240,76,34)" fill-opacity="0.84" stroke="rgb(240,76,34)" stroke-width="1.20"/>
<circle cx="1169.5" cy="396.4" r="3.00" fill="rgb(240,38,40)" fill-opacity="0.84" stroke="rgb(240,38,40)" stroke-width="1.20"/>
<circle cx="1188.1" cy="397.4" r="3.00" fill="rgb(240,76,34)" fill-opacity="0.84" stroke="rgb(240,76,34)" stroke-width="1.20"/>
<circle cx="1161.5" cy="407.6" r="3.00" fill="rgb(240,76,34)" fill-opacity="0.84" stroke="rgb(240,76,34)" stroke-width="1.20"/>
<circle cx="1168.1" cy="406.2" r="3.00" fill="rgb(240,38,40)" fill-opacity="0.84" stroke="rgb(240,38,40)" stroke-width="1.20"/>
<circle cx="1168.1" cy="406.2" r="3.00" fill="rgb(240,38,40)" fill-opacity="0.84" stroke="rgb(240,38,40)" stroke-width="1.20"/>
<circle cx="1177.3" cy="405.6" r="3.00" fill="rgb(240,76,34)" fill-opacity="0.84" stroke="rgb(240,76,34)" stroke-width="1.20"/>
<circle cx="1160.7" cy="410.9" r="3.00" fill="rgb(240,38,40)" fill-opacity="0.84" stroke="rgb(240,38,40)" stroke-width="1.20"/>
<circle cx="1157.7" cy="415.1" r="3.00" fill="rgb(240,38,40)" fill-opacity="0.84" stroke="rgb(240,38,40)" stroke-width="1.20"/>
<circle cx="1168.3" cy="414.7" r="3.00" fill="rgb(240,76,34)" fill-opacity="0.84" stroke="rgb(240,76,34)" stroke-width="1.20"/>
<circle cx="1151.7" cy="428.9" r="3.00" fill="rgb(240,76,34)" fill-opacity="0.84" stroke="rgb(240,76,34)" stroke-width="1.20"/>
<circle cx="1146.5" cy="428.5" r="3.00" fill="rgb(240,76,34)" fill-opacity="0.84" stroke="rgb(240,76,34)" stroke-width="1.20"/>
<circle cx="1142.7" cy="430.7" r="3.00" fill="rgb(240,38,40)" fill-opacity="0.84" stroke="rgb(240,38,40)" stroke-width="1.20"/>
<circle cx="1141.1" cy="438.1" r="3.00" fill="rgb(240,76,34)" fill-opacity="0.84" stroke="rgb(240,76,34)" stroke-width="1.20"/>
<circle cx="1129.8" cy="434.7" r="3.00" fill="rgb(240,38,40)" fill-opacity="0.84" stroke="rgb(240,38,40)" stroke-width="1.20"/>
<circle cx="1132.2" cy="438.9" r="3.00" fill="rgb(240,38,40)" fill-opacity="0.84" stroke="rgb(240,38,40)" stroke-width="1.20"/>
<circle cx="1134.0" cy="442.5" r="3.00" fill="rgb(240,38,40)" fill-opacity="0.84" stroke="rgb(240,38,40)" stroke-width="1.20"/>
<circle cx="1134.0" cy="442.5" r="3.00" fill="rgb(240,38,40)" fill-opacity="0.84" stroke="rgb(240,38,40)" stroke-width="1.20"/>
<circle cx="1183.3" cy="438.3" r="3.00" fill="rgb(240,38,40)" fill-opacity="0.84" stroke="rgb(240,38,40)" stroke-width="1.20"/>
<circle cx="1186.1" cy="439.3" r="3.00" fill="rgb(240,38,40)" fill-opacity="0.84" stroke="rgb(240,38,40)" stroke-width="1.20"/>
<circle cx="1113.2" cy="451.7" r="3.00" fill="rgb(240,76,34)" fill-opacity="0.84" stroke="rgb(240,76,34)" stroke-width="1.20"/>
<circle cx="1076.5" cy="462.0" r="3.00" fill="rgb(240,38,40)" fill-opacity="0.84" stroke="rgb(240,38,40)" stroke-width="1.20"/>
<circle cx="1102.4" cy="462.0" r="3.00" fill="rgb(240,38,40)" fill-opacity="0.84" stroke="rgb(240,38,40)" stroke-width="1.20"/>
<circle cx="1019.8" cy="497.2" r="3.00" fill="rgb(240,38,40)" fill-opacity="0.84" stroke="rgb(240,38,40)" stroke-width="1.20"/>
<circle cx="1035.3" cy="511.4" r="3.00" fill="rgb(240,76,34)" fill-opacity="0.84" stroke="rgb(240,76,34)" stroke-width="1.20"/>
<path d="M1541.6 364.6 L1667.1 323.6 M1656.1 320.0 L1667.1 323.6 L1660.3 333.0" fill="none" stroke="#000080" stroke-width="2.30" stroke-linejoin="round" stroke-linecap="round"/>
<path d="M1541.6 364.6 L1353.7 316.0 M1361.1 324.9 L1353.7 316.0 L1364.5 311.7" fill="none" stroke="#000080" stroke-width="2.30" stroke-linejoin="round" stroke-linecap="round"/>
<path d="M1541.6 364.6 L1405.9 339.1 M1413.9 347.5 L1405.9 339.1 L1416.4 334.1" fill="none" stroke="#000080" stroke-width="2.30" stroke-linejoin="round" stroke-linecap="round"/>
<path d="M1541.6 364.6 L1424.6 461.3 M1436.2 460.5 L1424.6 461.3 L1427.5 450.0" fill="none" stroke="#000080" stroke-width="2.30" stroke-linejoin="round" stroke-linecap="round"/>
<text x="0" y="0" transform="translate(1675.0 326.0) rotate(-28.1)" text-anchor="start" font-size="21.5" fill="#000080">Sal</text>
<text x="0" y="0" transform="translate(1348.4 316.5) rotate(22.5)" text-anchor="end" font-size="21.5" fill="#000080">Tem</text>
<text x="0" y="0" transform="translate(1400.1 348.8) rotate(16.5)" text-anchor="end" font-size="21.5" fill="#000080">Chl a</text>
<text x="0" y="0" transform="translate(1425.3 465.4) rotate(-53.2)" text-anchor="end" font-size="21.5" fill="#000080">DO</text>
<path d="M984.6 630.5 V98.2 H1763.2 V630.5 Z" stroke="#000" stroke-width="3.3" fill="none" stroke-linejoin="round"/>
<line x1="1134.3" y1="630.5" x2="1134.3" y2="640.5" stroke="#000" stroke-width="3"/>
<text x="1134.3" y="660.5" font-size="20" font-weight="bold" text-anchor="middle">−2</text>
<line x1="1337.8" y1="630.5" x2="1337.8" y2="640.5" stroke="#000" stroke-width="3"/>
<text x="1337.8" y="660.5" font-size="20" font-weight="bold" text-anchor="middle">−1</text>
<line x1="1541.3" y1="630.5" x2="1541.3" y2="640.5" stroke="#000" stroke-width="3"/>
<text x="1541.3" y="660.5" font-size="20" font-weight="bold" text-anchor="middle">0</text>
<line x1="1744.8" y1="630.5" x2="1744.8" y2="640.5" stroke="#000" stroke-width="3"/>
<text x="1744.8" y="660.5" font-size="20" font-weight="bold" text-anchor="middle">1</text>
<line x1="974.6" y1="113.2" x2="984.6" y2="113.2" stroke="#000" stroke-width="3"/>
<text x="972.5" y="120.3" font-size="20" font-weight="bold" text-anchor="end">2</text>
<line x1="974.6" y1="238.8" x2="984.6" y2="238.8" stroke="#000" stroke-width="3"/>
<text x="972.5" y="245.9" font-size="20" font-weight="bold" text-anchor="end">1</text>
<line x1="974.6" y1="364.3" x2="984.6" y2="364.3" stroke="#000" stroke-width="3"/>
<text x="972.5" y="371.4" font-size="20" font-weight="bold" text-anchor="end">0</text>
<line x1="974.6" y1="489.9" x2="984.6" y2="489.9" stroke="#000" stroke-width="3"/>
<text x="972.5" y="497.0" font-size="20" font-weight="bold" text-anchor="end">−1</text>
<line x1="974.6" y1="615.4" x2="984.6" y2="615.4" stroke="#000" stroke-width="3"/>
<text x="972.5" y="622.5" font-size="20" font-weight="bold" text-anchor="end">−2</text>
<text transform="translate(1373.2 691.3) scale(1 1.065)" font-size="21.5" font-weight="bold" text-anchor="middle" xml:space="preserve" style="white-space:pre">CCA1 67.84  %</text>
<text transform="translate(932.6 364.8) rotate(-90) scale(1 1.065)" font-size="21.5" font-weight="bold" text-anchor="middle" xml:space="preserve" style="white-space:pre">CCA2 13.62  %</text>
</svg>
</body></html>
